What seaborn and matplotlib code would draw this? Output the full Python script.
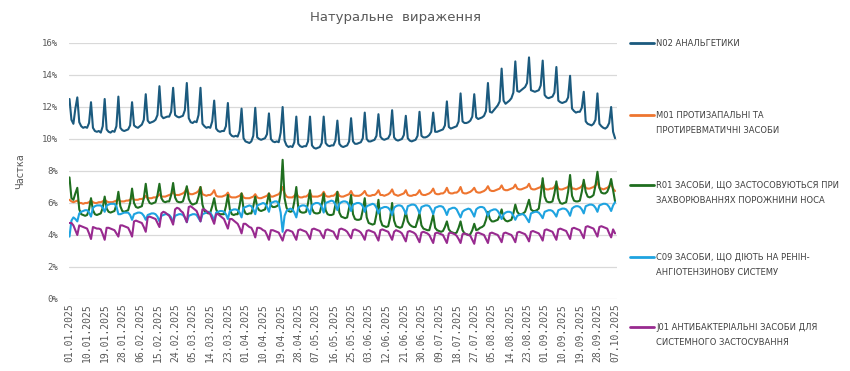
import matplotlib
matplotlib.use("Agg")
import matplotlib.pyplot as plt
from matplotlib.lines import Line2D
import pandas as pd
import seaborn as sns

start_date = "2025-01-01"
end_date = "2025-10-07"

tick_labels = ["01.01.2025", "10.01.2025", "19.01.2025", "28.01.2025", "06.02.2025",
               "15.02.2025", "24.02.2025", "05.03.2025", "14.03.2025", "23.03.2025",
               "01.04.2025", "10.04.2025", "19.04.2025", "28.04.2025", "07.05.2025",
               "16.05.2025", "25.05.2025", "03.06.2025", "12.06.2025", "21.06.2025",
               "30.06.2025", "09.07.2025", "18.07.2025", "27.07.2025", "05.08.2025",
               "14.08.2025", "23.08.2025", "01.09.2025", "10.09.2025", "19.09.2025",
               "28.09.2025", "07.10.2025"]

series_names = ["N02 АНАЛЬГЕТИКИ",
                "M01 ПРОТИЗАПАЛЬНІ ТА\nПРОТИРЕВМАТИЧНІ ЗАСОБИ",
                "R01 ЗАСОБИ, ЩО ЗАСТОСОВУЮТЬСЯ ПРИ\nЗАХВОРЮВАННЯХ ПОРОЖНИНИ НОСА",
                "C09 ЗАСОБИ, ЩО ДІЮТЬ НА РЕНІН-\nАНГІОТЕНЗИНОВУ СИСТЕМУ",
                "J01 АНТИБАКТЕРІАЛЬНІ ЗАСОБИ ДЛЯ\nСИСТЕМНОГО ЗАСТОСУВАННЯ"]

series_colors = ["#1B5A7E", "#EE7530", "#1F6E1F", "#1EA3E0", "#982A8F"]

yticks = [0, 2, 4, 6, 8, 10, 12, 14, 16]

n02 = [12.5, 11.2, 10.95, 11.9, 12.6,
       11.05, 10.8, 10.7, 10.75, 10.7, 11.0, 12.3,
       10.7, 10.5, 10.45, 10.5, 10.4, 10.8, 12.5,
       10.6, 10.45, 10.4, 10.5, 10.45, 10.8, 12.65,
       10.7, 10.55, 10.5, 10.55, 10.6, 10.85, 12.3,
       10.85, 10.75, 10.7, 10.8, 10.9, 11.2, 12.8,
       11.15, 11.0, 11.05, 11.1, 11.2, 11.5, 13.3,
       11.45, 11.3, 11.35, 11.4, 11.4, 11.7, 13.2,
       11.5, 11.4, 11.35, 11.4, 11.45, 11.8, 13.5,
       11.3, 11.05, 11.0, 11.1, 11.05, 11.5, 13.2,
       10.95, 10.8, 10.7, 10.75, 10.7, 11.1, 12.4,
       10.65, 10.5, 10.45, 10.5, 10.5, 10.8, 12.25,
       10.35, 10.2, 10.15, 10.2, 10.15, 10.5, 11.9,
       10.05, 9.85, 9.8, 9.75, 9.85, 10.2, 11.95,
       10.1, 10.0, 9.95, 10.0, 10.05, 10.3, 11.6,
       10.0, 9.85, 9.8, 9.85, 9.8, 10.4, 12.0,
       9.9, 9.6, 9.5, 9.55, 9.5, 9.8, 11.4,
       9.7, 9.55, 9.5, 9.55, 9.55, 9.85, 11.4,
       9.6, 9.45, 9.4, 9.45, 9.5, 9.75, 11.4,
       9.75, 9.6, 9.55, 9.6, 9.6, 9.9, 11.15,
       9.7, 9.55, 9.5, 9.55, 9.6, 9.85, 11.3,
       9.85, 9.7, 9.7, 9.75, 9.8, 10.05, 11.65,
       10.0, 9.85, 9.85, 9.9, 9.95, 10.2, 11.55,
       10.15, 10.0, 9.95, 10.0, 10.05, 10.3, 11.8,
       10.1, 9.95, 9.9, 9.95, 10.0, 10.25, 11.45,
       10.05, 9.9, 9.85, 9.9, 9.95, 10.2, 11.7,
       10.2, 10.1, 10.1, 10.15, 10.25, 10.45, 11.65,
       10.45, 10.45, 10.5, 10.55, 10.6, 10.85, 12.35,
       10.75, 10.65, 10.7, 10.75, 10.8, 11.1, 12.85,
       11.1, 11.0, 11.0, 11.05, 11.15, 11.4, 12.8,
       11.35, 11.25, 11.3, 11.35, 11.45, 11.75, 13.5,
       11.7, 11.65, 11.8, 11.95, 12.1, 12.35, 14.4,
       12.4, 12.2, 12.3, 12.4, 12.55, 12.9, 14.85,
       13.0, 12.95, 13.05, 13.15, 13.25, 13.5, 15.1,
       13.05, 13.0, 12.95, 13.0, 13.05, 13.35, 14.9,
       12.75, 12.6, 12.55, 12.6, 12.65, 12.9, 14.5,
       12.4, 12.3, 12.25, 12.3, 12.35, 12.6, 13.95,
       11.9, 11.75, 11.65, 11.7, 11.7, 11.95, 12.95,
       11.1, 10.95, 10.9, 10.85, 10.95, 11.2, 12.85,
       10.95, 10.8, 10.7, 10.65, 10.75, 11.0, 12.0,
       10.45, 10.05]

m01 = [6.2, 6.1, 6.05, 6.1, 6.15,
       6.0, 6.0, 5.95, 6.0, 6.0, 6.05, 6.15,
       6.05, 6.0, 6.0, 6.05, 6.05, 6.1, 6.2,
       6.1, 6.05, 6.05, 6.05, 6.1, 6.15, 6.25,
       6.1, 6.1, 6.1, 6.15, 6.15, 6.2, 6.35,
       6.2, 6.2, 6.2, 6.25, 6.25, 6.3, 6.45,
       6.3, 6.3, 6.3, 6.35, 6.35, 6.4, 6.55,
       6.4, 6.4, 6.4, 6.45, 6.5, 6.55, 6.7,
       6.5, 6.5, 6.5, 6.55, 6.6, 6.7, 6.95,
       6.6, 6.55, 6.55, 6.6, 6.65, 6.75, 7.0,
       6.55, 6.5, 6.45, 6.5, 6.5, 6.6, 6.8,
       6.45, 6.4, 6.4, 6.4, 6.45, 6.5, 6.65,
       6.4, 6.35, 6.35, 6.35, 6.4, 6.45, 6.6,
       6.35, 6.3, 6.3, 6.3, 6.35, 6.4, 6.55,
       6.35, 6.3, 6.3, 6.35, 6.4, 6.45, 6.6,
       6.4, 6.4, 6.45, 6.5, 6.55, 6.7, 7.0,
       6.6, 6.4, 6.35, 6.35, 6.35, 6.45, 6.6,
       6.4, 6.35, 6.35, 6.4, 6.4, 6.5, 6.65,
       6.4, 6.4, 6.4, 6.4, 6.45, 6.5, 6.7,
       6.45, 6.4, 6.4, 6.45, 6.45, 6.55, 6.7,
       6.45, 6.4, 6.4, 6.45, 6.5, 6.55, 6.75,
       6.5, 6.45, 6.45, 6.45, 6.5, 6.6, 6.75,
       6.5, 6.45, 6.45, 6.5, 6.5, 6.6, 6.8,
       6.5, 6.5, 6.45, 6.5, 6.55, 6.65, 6.85,
       6.55, 6.5, 6.45, 6.5, 6.55, 6.6, 6.8,
       6.5, 6.45, 6.45, 6.5, 6.5, 6.6, 6.8,
       6.55, 6.5, 6.5, 6.55, 6.6, 6.7, 6.9,
       6.6, 6.55, 6.55, 6.6, 6.6, 6.7, 6.95,
       6.65, 6.6, 6.6, 6.65, 6.65, 6.75, 7.0,
       6.65, 6.6, 6.6, 6.65, 6.7, 6.8, 6.95,
       6.7, 6.65, 6.65, 6.7, 6.75, 6.85, 7.05,
       6.8, 6.75, 6.75, 6.8, 6.85, 6.9, 7.1,
       6.85, 6.8, 6.8, 6.85, 6.9, 6.95, 7.15,
       6.9, 6.85, 6.85, 6.9, 6.95, 7.0, 7.2,
       6.9, 6.85, 6.85, 6.9, 6.95, 7.0, 7.25,
       6.9, 6.85, 6.85, 6.9, 6.9, 7.0, 7.2,
       6.9, 6.85, 6.85, 6.9, 6.95, 7.0, 7.2,
       6.9, 6.9, 6.85, 6.9, 6.95, 7.05, 7.25,
       6.95, 6.9, 6.9, 6.95, 7.0, 7.1, 7.3,
       6.95, 6.9, 6.85, 6.9, 6.95, 7.05, 7.15,
       6.9, 6.75]

r01 = [7.6, 6.3, 6.2, 6.6, 6.95,
       5.6, 5.3, 5.25, 5.2, 5.25, 5.6, 6.3,
       5.55, 5.3, 5.25, 5.3, 5.35, 5.7, 6.4,
       5.65, 5.45, 5.4, 5.45, 5.5, 5.9, 6.7,
       5.8, 5.5, 5.45, 5.5, 5.55, 6.0, 6.9,
       6.0, 5.75, 5.7, 5.75, 5.8, 6.3, 7.2,
       6.25, 6.0, 5.95, 6.0, 6.05, 6.5, 7.2,
       6.3, 6.1, 6.05, 6.1, 6.1, 6.5, 7.25,
       6.35, 6.1, 6.05, 6.05, 6.1, 6.5, 7.05,
       6.25, 6.0, 5.9, 5.95, 6.0, 6.4, 7.0,
       5.9, 5.5, 5.4, 5.35, 5.4, 5.8, 6.3,
       5.6, 5.35, 5.3, 5.3, 5.3, 5.8, 6.5,
       5.6, 5.3, 5.25, 5.3, 5.3, 5.85, 6.6,
       5.65, 5.35, 5.3, 5.35, 5.35, 5.8, 6.4,
       5.75, 5.55, 5.5, 5.55, 5.6, 6.0, 6.6,
       5.85, 5.75, 5.75, 5.8, 5.9, 6.6, 8.7,
       6.3, 5.7, 5.5, 5.45, 5.5, 6.1, 7.0,
       5.7, 5.45, 5.4, 5.4, 5.45, 6.0, 6.8,
       5.65, 5.4, 5.35, 5.35, 5.4, 5.9, 6.6,
       5.55, 5.3, 5.25, 5.25, 5.3, 5.9, 6.7,
       5.4, 5.15, 5.1, 5.05, 5.1, 5.7, 6.5,
       5.3, 5.0, 4.95, 4.95, 5.0, 5.55, 6.3,
       5.1, 4.75, 4.7, 4.65, 4.7, 5.3, 6.2,
       4.95, 4.6, 4.55, 4.5, 4.55, 5.1, 6.0,
       4.9, 4.55, 4.5, 4.45, 4.5, 4.9, 5.45,
       4.85, 4.65, 4.55, 4.5, 4.5, 4.9, 5.35,
       4.6, 4.4, 4.35, 4.3, 4.3, 4.75, 5.25,
       4.45, 4.3, 4.25, 4.2, 4.25, 4.5, 4.85,
       4.35, 4.2, 4.15, 4.1, 4.15, 4.45, 4.85,
       4.3, 4.1, 4.05, 4.0, 4.05, 4.3, 4.7,
       4.3, 4.35, 4.45, 4.5, 4.6, 4.95, 5.45,
       5.0, 4.85, 4.85, 4.9, 4.95, 5.2, 5.6,
       5.05, 4.9, 4.85, 4.9, 4.95, 5.35, 5.9,
       5.45, 5.3, 5.3, 5.35, 5.45, 5.8, 6.2,
       5.6, 5.5, 5.5, 5.55, 5.65, 6.5, 7.55,
       6.4, 6.1, 6.05, 6.05, 6.1, 6.6, 7.35,
       6.3, 6.0, 5.95, 6.0, 6.05, 6.7, 7.75,
       6.45, 6.15, 6.1, 6.1, 6.15, 6.7, 7.45,
       6.7, 6.4, 6.35, 6.4, 6.5, 7.1, 7.95,
       6.95, 6.65, 6.6, 6.6, 6.7, 7.0, 7.5,
       6.8, 6.1]

c09 = [3.9, 4.9, 5.1, 5.0, 4.85,
       5.35, 5.45, 5.5, 5.55, 5.55, 5.4, 5.15,
       5.7, 5.8, 5.85, 5.85, 5.85, 5.7, 5.45,
       5.85, 5.9, 5.95, 5.95, 5.95, 5.8, 5.3,
       5.3, 5.35, 5.4, 5.4, 5.4, 5.25, 4.95,
       5.3, 5.35, 5.4, 5.4, 5.35, 5.2, 4.95,
       5.25, 5.3, 5.35, 5.35, 5.3, 5.15, 4.85,
       5.2, 5.25, 5.3, 5.3, 5.25, 5.1, 4.8,
       5.2, 5.25, 5.3, 5.3, 5.25, 5.1, 4.8,
       5.2, 5.25, 5.3, 5.3, 5.25, 5.05, 4.85,
       5.3, 5.35, 5.4, 5.45, 5.4, 5.2, 4.9,
       5.4, 5.45, 5.5, 5.5, 5.45, 5.3, 5.0,
       5.5, 5.55, 5.6, 5.6, 5.55, 5.4, 5.1,
       5.7, 5.75, 5.8, 5.85, 5.8, 5.6, 5.3,
       5.85, 5.9, 5.95, 6.0, 5.95, 5.75, 5.45,
       6.0, 6.05, 6.1, 6.1, 5.95, 5.4, 4.2,
       5.2, 5.5, 5.6, 5.65, 5.6, 5.4, 5.1,
       5.7, 5.8, 5.85, 5.85, 5.8, 5.6, 5.3,
       5.85, 5.95, 6.0, 6.0, 5.95, 5.75, 5.4,
       6.0, 6.05, 6.1, 6.15, 6.1, 5.9, 5.55,
       5.95, 6.05, 6.1, 6.1, 6.05, 5.85, 5.5,
       5.9, 5.95, 6.0, 6.0, 5.95, 5.8, 5.45,
       5.8, 5.85, 5.9, 5.95, 5.9, 5.7, 5.35,
       5.65, 5.7, 5.75, 5.75, 5.7, 5.55, 5.25,
       5.7, 5.8, 5.85, 5.85, 5.8, 5.6, 5.3,
       5.8, 5.85, 5.9, 5.9, 5.85, 5.65, 5.35,
       5.75, 5.8, 5.85, 5.85, 5.8, 5.6, 5.3,
       5.7, 5.75, 5.8, 5.8, 5.75, 5.55, 5.25,
       5.6, 5.65, 5.7, 5.7, 5.6, 5.35, 5.1,
       5.45, 5.55, 5.6, 5.65, 5.6, 5.4, 5.15,
       5.6, 5.7, 5.75, 5.75, 5.7, 5.5, 5.2,
       5.5, 5.55, 5.6, 5.6, 5.5, 5.3, 5.0,
       5.3, 5.4, 5.45, 5.45, 5.4, 5.2, 4.95,
       5.2, 5.25, 5.3, 5.3, 5.2, 5.0, 4.8,
       5.35, 5.4, 5.45, 5.45, 5.4, 5.25, 5.05,
       5.45, 5.5, 5.55, 5.55, 5.5, 5.35, 5.15,
       5.55, 5.6, 5.65, 5.65, 5.6, 5.45, 5.2,
       5.65, 5.75, 5.8, 5.8, 5.75, 5.6, 5.35,
       5.8, 5.85, 5.9, 5.9, 5.85, 5.7, 5.45,
       5.85, 5.9, 5.95, 5.95, 5.9, 5.75, 5.5,
       5.85, 6.05]

j01 = [4.75, 4.75, 4.6, 4.3, 4.0,
       4.6, 4.55, 4.5, 4.45, 4.4, 4.1, 3.75,
       4.5, 4.45, 4.4, 4.4, 4.35, 4.05, 3.7,
       4.45, 4.45, 4.4, 4.35, 4.3, 4.1, 3.9,
       4.6, 4.6, 4.55, 4.5, 4.45, 4.2, 3.9,
       4.85, 4.9, 4.85, 4.8, 4.75, 4.5, 4.2,
       5.1, 5.15, 5.1, 5.05, 5.0, 4.75, 4.5,
       5.35, 5.45, 5.4, 5.3, 5.2, 4.95, 4.65,
       5.6, 5.7, 5.65, 5.5, 5.4, 5.1, 4.8,
       5.75, 5.8, 5.7, 5.6, 5.5, 5.2, 4.85,
       5.6, 5.6, 5.5, 5.4, 5.3, 5.0, 4.7,
       5.3, 5.3, 5.2, 5.1, 5.0, 4.7, 4.4,
       5.0, 5.0, 4.9, 4.8, 4.7, 4.45, 4.1,
       4.7, 4.7, 4.6, 4.5, 4.45, 4.2, 3.85,
       4.45, 4.45, 4.4, 4.3, 4.25, 4.0, 3.7,
       4.3, 4.3, 4.25, 4.2, 4.15, 3.9, 3.65,
       4.1, 4.3, 4.3, 4.25, 4.2, 3.95, 3.7,
       4.3, 4.35, 4.3, 4.25, 4.2, 4.0, 3.75,
       4.35, 4.4, 4.35, 4.3, 4.25, 4.0, 3.8,
       4.3, 4.35, 4.3, 4.25, 4.2, 3.95, 3.75,
       4.35, 4.4, 4.35, 4.3, 4.2, 4.0, 3.8,
       4.3, 4.35, 4.3, 4.25, 4.15, 3.95, 3.7,
       4.25, 4.3, 4.25, 4.2, 4.15, 3.9, 3.65,
       4.3, 4.35, 4.3, 4.25, 4.2, 3.95, 3.7,
       4.2, 4.3, 4.25, 4.2, 4.1, 3.85, 3.6,
       4.2, 4.25, 4.2, 4.15, 4.05, 3.8, 3.55,
       4.15, 4.2, 4.15, 4.1, 4.0, 3.75, 3.5,
       4.1, 4.15, 4.1, 4.05, 4.0, 3.75, 3.5,
       4.1, 4.15, 4.1, 4.05, 3.95, 3.75, 3.5,
       4.05, 4.1, 4.05, 4.0, 3.95, 3.7, 3.45,
       4.1, 4.15, 4.1, 4.05, 4.0, 3.75, 3.5,
       4.1, 4.15, 4.1, 4.05, 4.0, 3.8, 3.55,
       4.1, 4.15, 4.1, 4.05, 4.0, 3.8, 3.55,
       4.15, 4.2, 4.15, 4.1, 4.05, 3.85, 3.6,
       4.2, 4.25, 4.2, 4.15, 4.1, 3.9, 3.65,
       4.3, 4.35, 4.3, 4.25, 4.2, 3.95, 3.7,
       4.35, 4.4, 4.35, 4.3, 4.25, 4.0, 3.75,
       4.4, 4.45, 4.4, 4.35, 4.3, 4.05, 3.8,
       4.5, 4.55, 4.5, 4.45, 4.4, 4.15, 3.9,
       4.5, 4.55, 4.5, 4.45, 4.4, 4.1, 3.85,
       4.35, 4.1]

values = [n02, m01, r01, c09, j01]

dates = pd.date_range(start_date, end_date, freq="D")
frames = []
for name, vals in zip(series_names, values):
    frames.append(pd.DataFrame({"day": range(len(dates)), "value": vals, "series": name}))
df = pd.concat(frames, ignore_index=True)

sns.set_theme(style="white")
plt.rcParams["font.family"] = ["DejaVu Sans"]

W, H = 850, 371
fig = plt.figure(figsize=(W / 100, H / 100), dpi=100)
ax = fig.add_axes([69 / W, 1 - 299 / H, (617 - 69) / W, (299 - 43) / H])

sns.lineplot(data=df, x="day", y="value", hue="series", hue_order=series_names,
             palette=dict(zip(series_names, series_colors)), linewidth=1.5,
             legend=False, ax=ax)

ax.set_xlim(-0.25, 280.0)
ax.set_ylim(0, 16)
ax.set_yticks(yticks)
ax.set_yticklabels([f"{v}%" for v in yticks], family="DejaVu Sans Mono",
                   fontsize=6.5, color="#595959")
tick_pos = list(range(0, len(dates), 9))
ax.set_xticks(tick_pos)
ax.set_xticklabels(tick_labels, rotation=90, family="DejaVu Sans Mono",
                   fontsize=7, color="#595959")
ax.tick_params(axis="both", length=0)
ax.tick_params(axis="x", pad=3)
ax.tick_params(axis="y", pad=8)
ax.grid(axis="y", color="#D9D9D9", linewidth=0.9)
ax.grid(axis="x", visible=False)
for s in ax.spines.values():
    s.set_visible(False)
ax.set_xlabel("")
ax.set_ylabel("Частка", fontsize=7, color="#595959", labelpad=12)

fig.text(395 / W, 1 - 18 / H, "Натуральне  вираження", ha="center", va="center",
         fontsize=9.5, color="#595959")

legend_y = [43, 115, 185, 257, 327]
for name, col, ly in zip(series_names, series_colors, legend_y):
    fy = 1 - ly / H
    fig.add_artist(Line2D([630 / W, 654 / W], [fy, fy], color=col, linewidth=2,
                          transform=fig.transFigure))
    fig.text(656 / W, fy + 4 / H, name, ha="left", va="top", fontsize=6.0,
             color="#404040", linespacing=1.8)

fig.savefig("out.png", dpi=100)
